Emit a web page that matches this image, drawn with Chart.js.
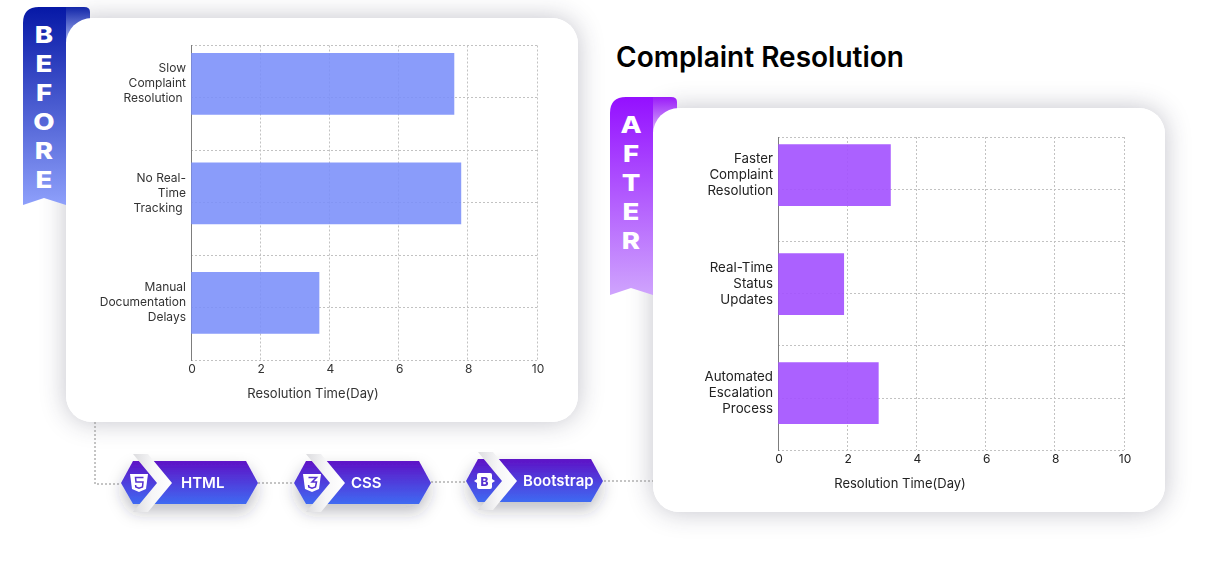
<!DOCTYPE html>
<html>
<head>
<meta charset="utf-8">
<title>Complaint Resolution</title>
<script src="https://cdn.jsdelivr.net/npm/chart.js@4/dist/chart.umd.min.js"></script>
<style>
    html, body { margin: 0; padding: 0; background: #fff; }
    #page { position: relative; width: 1220px; height: 580px; overflow: hidden; font-family: Inter, sans-serif; }
    #page > * { position: absolute; }
    .card-shadow { width: 512px; height: 404px; border-radius: 26px; box-shadow: 0 0 26px rgba(40, 40, 70, 0.28); }
    .card { width: 512px; height: 404px; border-radius: 26px; background: #fff; }
    canvas { display: block; }
    h1 { margin: 0; left: 616px; top: 39px; font-size: 28px; line-height: 36px; font-weight: 600; color: #000; white-space: nowrap; }
    svg { left: 0; top: 0; }
</style>
</head>
<body>
<div id="page">
    <div class="card-shadow" style="left:66px;top:18px"></div>
    <div class="card-shadow" style="left:653px;top:108px"></div>

    <svg width="1220" height="580">
        <defs>
            <linearGradient id="ribbonBlue" x1="0" y1="0" x2="0" y2="1">
                <stop offset="0" stop-color="#0618a6"/><stop offset="1" stop-color="#8ea0fb"/>
            </linearGradient>
            <linearGradient id="foldBlue" x1="0" y1="0" x2="0" y2="1">
                <stop offset="0" stop-color="#1226a8"/><stop offset="1" stop-color="#a9b6f6"/>
            </linearGradient>
            <linearGradient id="ribbonPurple" x1="0" y1="0" x2="0" y2="1">
                <stop offset="0" stop-color="#9410ff"/><stop offset="1" stop-color="#cfa4fd"/>
            </linearGradient>
            <linearGradient id="foldPurple" x1="0" y1="0" x2="0" y2="1">
                <stop offset="0" stop-color="#9a1cf8"/><stop offset="1" stop-color="#d9b4fb"/>
            </linearGradient>
        </defs>
        <g id="ribbons">
            <path d="M60 7H84Q90 7 90 12V42H60Z" fill="url(#foldBlue)"/>
            <path d="M23 23Q23 7 39 7H66V205L44 198L23 205Z" fill="url(#ribbonBlue)"/>
            <path d="M647 97H671Q677 97 677 102V132H647Z" fill="url(#foldPurple)"/>
            <path d="M610 113Q610 97 626 97H653V295L631 288L610 295Z" fill="url(#ribbonPurple)"/>
        </g>
        <g id="ribbonText" font-family="Inter, sans-serif" font-weight="800" font-size="23" fill="#fff" text-anchor="middle"></g>
    </svg>

    <div class="card" style="left:66px;top:18px"></div>
    <div class="card" style="left:653px;top:108px"></div>

    <canvas id="before-chart" width="494" height="404" style="left:66px;top:18px"></canvas>
    <canvas id="after-chart" width="494" height="404" style="left:653px;top:108px"></canvas>

    <h1>Complaint Resolution</h1>

    <svg width="1220" height="580" style="pointer-events:none">
        <defs>
            <linearGradient id="badgeFill" x1="0" y1="0" x2="0" y2="1">
                <stop offset="0" stop-color="#5e12c6"/><stop offset="1" stop-color="#3f6af2"/>
            </linearGradient>
            <linearGradient id="chevronFill" x1="0" y1="0" x2="1" y2="0">
                <stop offset="0" stop-color="#dcdcdf"/><stop offset="0.5" stop-color="#f6f6f7"/><stop offset="1" stop-color="#ffffff"/>
            </linearGradient>
            <filter id="badgeShadow" x="-30%" y="-40%" width="160%" height="220%">
                <feDropShadow dx="0" dy="8" stdDeviation="8" flood-color="#303040" flood-opacity="0.3"/>
            </filter>
            <g id="badge">
                <path d="M121 483L133 461H246L258 483L246 504H133Z" fill="url(#badgeFill)" filter="url(#badgeShadow)"/>
                <path d="M133 454H148L172 483L148 512H133L157 483Z" fill="url(#chevronFill)"/>
            </g>
        </defs>
        <g fill="none" stroke="#8a8a8a" stroke-width="1" stroke-dasharray="2 2">
            <path d="M95 422V484H121"/>
            <path d="M258 483H293"/>
            <path d="M431 482H466"/>
            <path d="M604 481H653"/>
        </g>

        <use href="#badge"/>
        <use href="#badge" x="173"/>
        <use href="#badge" x="345" y="-2"/>

        <path d="M130 474H148L146 489L139 492L132 489Z" fill="#fff"/>
        <path d="M143.500 477.500H135.500L136 482H143L142.500 487L139 488.200L135.800 487L135.600 485" fill="none" stroke="#5632d0" stroke-width="1.500"/>
        <path d="M303 474H321L319 489L312 492L305 489Z" fill="#fff"/>
        <path d="M308.500 477.500H316.500L312 482H316.500L315.500 487L312 488.200L308.800 487L308.600 485" fill="none" stroke="#5632d0" stroke-width="1.500"/>
        <path d="M474 481L477 479V475Q477 473 479 473H490Q492 473 492 475V479L495 481L492 483V487Q492 489 490 489H479Q477 489 477 487V483Z" fill="#fff"/>
        <text x="484.500" y="486" font-family="Inter, sans-serif" font-size="12" font-weight="800" fill="#5632d0" text-anchor="middle">B</text>

        <g font-family="Inter, sans-serif" font-size="15" font-weight="600" fill="#fff">
            <text x="181" y="488">HTML</text>
            <text x="351" y="488">CSS</text>
            <text x="523" y="486">Bootstrap</text>
        </g>
    </svg>
</div>

<script>
/* ---------- Chart data ---------- */

const beforeLabels = [['Slow', 'Complaint', 'Resolution '], ['No Real-', 'Time', 'Tracking '], ['Manual', 'Documentation', 'Delays']];
const beforeValues = [7.6, 7.8, 3.7];

const afterLabels = [['Faster', 'Complaint', 'Resolution'], ['Real-Time', 'Status', 'Updates'], ['Automated', 'Escalation', 'Process']];
const afterValues = [3.25, 1.9, 2.9];

const rows = [0, 1, 2];

const axisTitle = 'Resolution Time(Day)';
const axisMax = 10;
const axisStep = 2;

const beforeWord = ['B', 'E', 'F', 'O', 'R', 'E'];
const afterWord = ['A', 'F', 'T', 'E', 'R'];

/* ---------- Ribbon lettering ---------- */

function drawWord(letters, x, firstY) {
    const group = document.getElementById('ribbonText');
    letters.forEach((letter, i) => {
        const el = document.createElementNS('http://www.w3.org/2000/svg', 'text');
        el.setAttribute('transform', `translate(${x} ${firstY + i * 29}) scale(1.2 1)`);
        el.textContent = letter;
        group.appendChild(el);
    });
}

drawWord(beforeWord, 44, 43);
drawWord(afterWord, 631, 133);

/* ---------- Charts ---------- */

function makeChart(id, labels, values, barColor, textColor, fontSize, lineHeight) {
    const gridColor = '#c2c2c2';
    const gridDash = [2, 2];
    const font = { family: 'Inter', size: fontSize };
    return new Chart(document.getElementById(id), {
        type: 'bar',
        data: {
            datasets: [{
                data: rows.map((row, i) => ({ x: values[i], y: row })),
                backgroundColor: barColor,
                borderWidth: 0,
                barThickness: 61,
            }],
        },
        options: {
            indexAxis: 'y',
            responsive: false,
            animation: false,
            layout: { padding: { top: 27, right: 0, bottom: 20.5, left: 0 } },
            plugins: {
                legend: { display: false },
                tooltip: { enabled: false },
                // bottom title centres on the canvas, not the plot area
                title: {
                    display: true,
                    text: axisTitle,
                    position: 'bottom',
                    color: textColor,
                    font: { family: 'Inter', size: 13, weight: 'normal', lineHeight: 1.2 },
                    padding: 0,
                },
            },
            scales: {
                x: {
                    type: 'linear',
                    min: 0,
                    max: axisMax,
                    ticks: { stepSize: axisStep, color: textColor, font: { family: 'Inter', size: 12 }, padding: 2, labelOffset: 1, maxRotation: 0 },
                    grid: { color: gridColor, drawTicks: false },
                    border: { display: false, dash: gridDash },
                    afterFit: (scale) => { scale.height = 25.5; },
                },
                // the bands in the picture are a little wider than the grid, so rows get their own axis
                y: {
                    type: 'linear',
                    offset: false,
                    reverse: true,
                    min: -0.35,
                    max: 2.526,
                    ticks: {
                        stepSize: 1,
                        includeBounds: false,
                        color: textColor,
                        font: { ...font, lineHeight },
                        padding: 5,
                        autoSkip: false,
                        callback: (value) => labels[value],
                    },
                    grid: { display: false, drawTicks: false },
                    border: { color: '#7d7d7d' },
                    afterFit: (scale) => { scale.width = 125; },
                },
                // invisible axis, only carries the dotted horizontal grid
                yGrid: {
                    type: 'linear',
                    axis: 'y',
                    position: 'right',
                    offset: false,
                    min: 0,
                    max: labels.length,
                    ticks: { display: false, stepSize: 0.5 },
                    grid: { offset: false, color: gridColor, drawTicks: false },
                    border: { display: false, dash: gridDash },
                    afterFit: (scale) => { scale.width = 23; },
                },
            },
        },
    });
}

makeChart('before-chart', beforeLabels, beforeValues, 'rgba(122, 142, 249, 0.88)', '#333333', 12, 15 / 12);
makeChart('after-chart', afterLabels, afterValues, 'rgba(164, 84, 255, 0.92)', '#222222', 13.3, 16 / 13.3);
</script>
</body>
</html>
